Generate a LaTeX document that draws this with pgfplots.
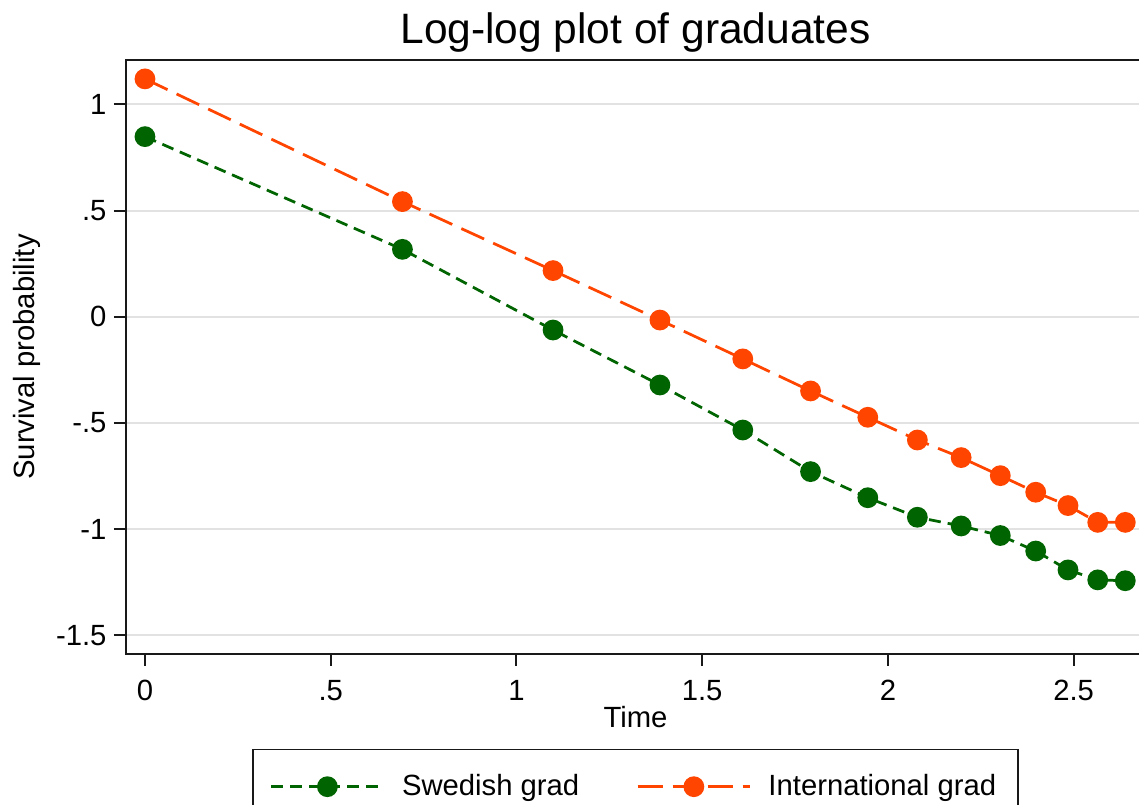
\documentclass[border=0pt]{standalone}
\usepackage{fontspec}
\setmainfont{Liberation Sans}
\usepackage{pgfplots}
\pgfplotsset{compat=1.18}

\definecolor{sgreen}{RGB}{0,100,0}
\definecolor{iorange}{RGB}{255,69,0}
\definecolor{gridgray}{RGB}{226,226,226}
\definecolor{axgray}{RGB}{25,25,25}

% log(t) for t = 1..14
\pgfplotstableread{
x        swe     intl
0.0000   0.848   1.120
0.6931   0.317   0.542
1.0986  -0.063   0.217
1.3863  -0.322  -0.016
1.6094  -0.534  -0.199
1.7918  -0.730  -0.350
1.9459  -0.853  -0.474
2.0794  -0.945  -0.581
2.1972  -0.986  -0.664
2.3026  -1.031  -0.749
2.3979  -1.104  -0.827
2.4849  -1.193  -0.890
2.5649  -1.240  -0.969
2.6391  -1.244  -0.969
}\loglog

\begin{document}
\begin{tikzpicture}
\begin{axis}[
  scale only axis, width=407.6pt, height=237.6pt,
  xmin=-0.0511, xmax=2.692, ymin=-1.589, ymax=1.209,
  axis line style={axgray, line width=0.8pt},
  tick pos=left, tick align=outside, major tick length=4.8pt,
  tick style={axgray, line width=0.8pt},
  xtick={0,0.5,1,1.5,2,2.5}, xticklabels={0,.5,1,1.5,2,2.5},
  ytick={-1.5,-1,-0.5,0,0.5,1}, yticklabels={-1.5,-1,-.5,0,.5,1},
  ymajorgrids, grid style={gridgray, line width=0.8pt},
  ticklabel style={font=\fontsize{11.7}{14}\selectfont, inner sep=0pt},
  xticklabel style={anchor=base, yshift=-14pt},
  yticklabel style={anchor=east, xshift=-2.8pt},
  title={Log-log plot of graduates},
  title style={at={(0.5,1)}, anchor=base, yshift=0.4pt, inner sep=0pt,
    font=\fontsize{17}{20}\selectfont},
  xlabel={Time},
  xlabel style={at={(0.5,0)}, anchor=base, yshift=-29.5pt, inner sep=0pt,
    font=\fontsize{11.7}{14}\selectfont},
  ylabel={Survival probability},
  ylabel style={at={(0,0.5)}, anchor=base, yshift=36.4pt, inner sep=0pt,
    font=\fontsize{11.7}{14}\selectfont},
  legend columns=2,
  legend style={at={(0.5,0)}, anchor=north, yshift=-38pt,
    draw=axgray, line width=0.6pt, font=\fontsize{11.7}{14}\selectfont,
    inner xsep=6.8pt, inner ysep=7.8pt,
    /tikz/every odd column/.append style={column sep=4.8pt},
    /tikz/every even column/.append style={column sep=20.8pt}},
  legend cell align=left,
  legend image code/.code={
    \draw[mark repeat=2, mark phase=2] plot coordinates {(0pt,0pt) (22.5pt,0pt) (45pt,0pt)};},
]
\coordinate (tl) at (axis cs:-0.0511,1.209);
\coordinate (br) at (axis cs:2.676,-1.589);

\addplot[sgreen, line width=1.1pt, dash pattern=on 4.8pt off 2.8pt,
  mark=*, mark size=3.6pt, mark options={solid, fill=sgreen, draw=sgreen}]
  table[x=x, y=swe] {\loglog};
\addlegendentry{Swedish grad}

\addplot[iorange, line width=1.1pt, dash pattern=on 10pt off 4pt,
  mark=*, mark size=3.6pt, mark options={solid, fill=iorange, draw=iorange}]
  table[x=x, y=intl] {\loglog};
\addlegendentry{International grad\hspace{3.6pt}}
\end{axis}
\pgfresetboundingbox
\path ([xshift=-50.4pt, yshift=24pt]tl) rectangle ([yshift=-60.4pt]br);
\end{tikzpicture}
\end{document}
